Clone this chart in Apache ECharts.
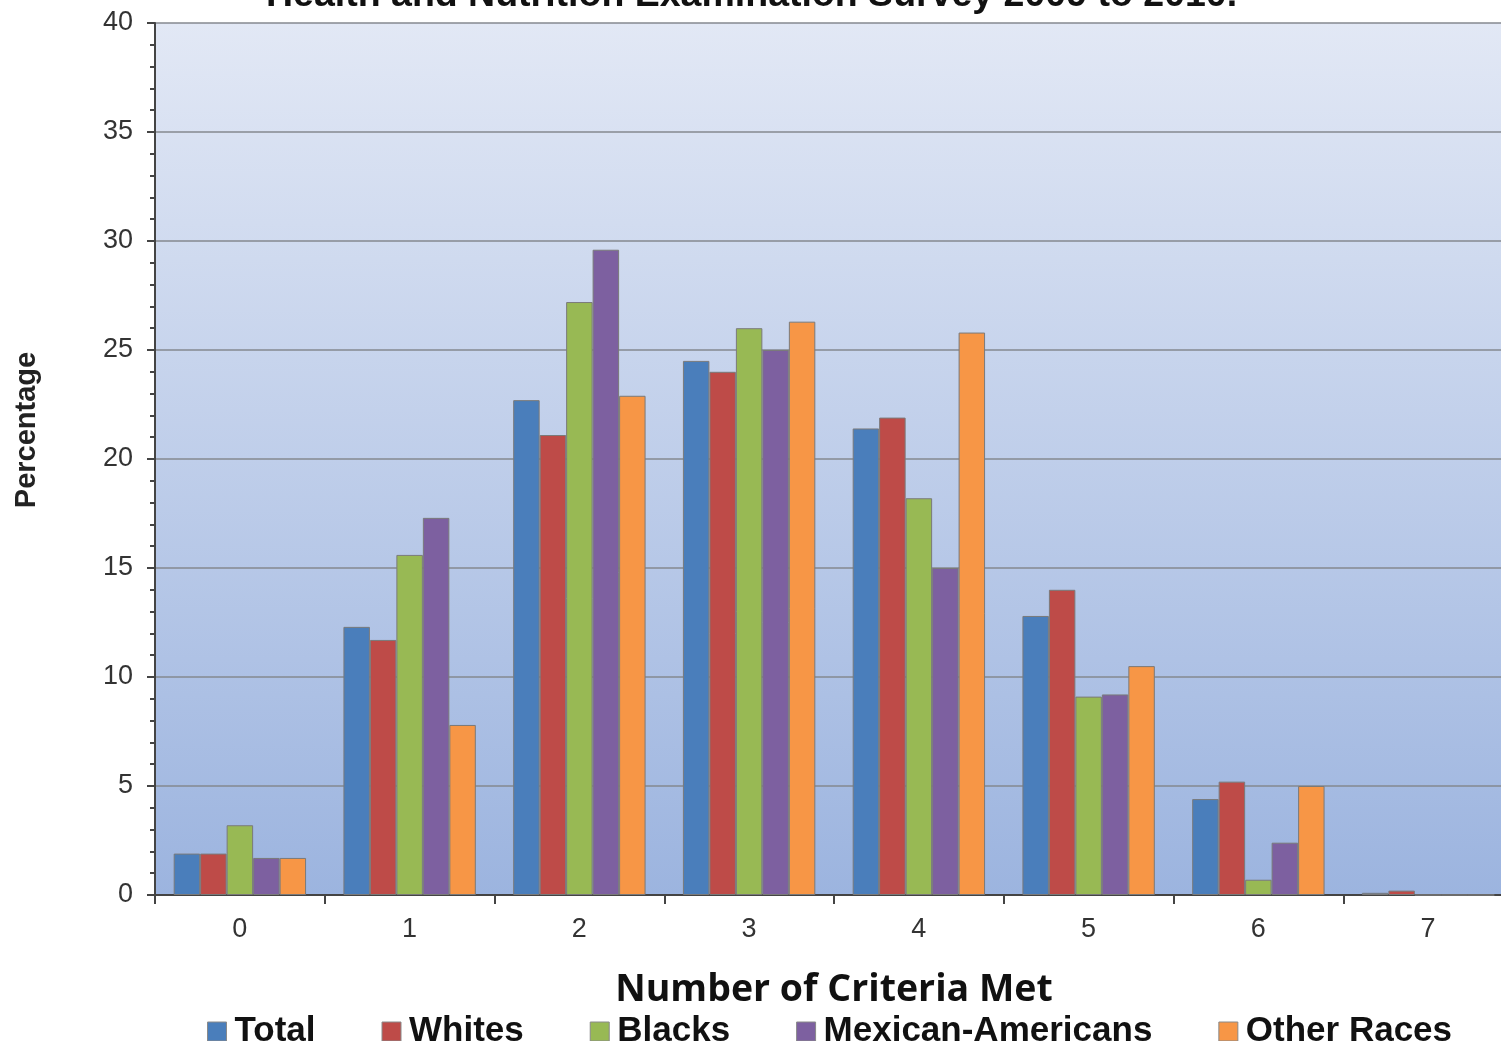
<!DOCTYPE html>
<html>
<head>
<meta charset="utf-8">
<title>Number of Criteria Met</title>
<script src="https://cdn.jsdelivr.net/npm/echarts@6/dist/echarts.min.js"></script>
<style>
  html, body { margin: 0; padding: 0; background: #ffffff; overflow: hidden; }
  /* the plot runs a little past the right edge of the page */
  #chart { width: 1513px; height: 1041px; }
</style>
</head>
<body>
<div id="chart"></div>
<script>
// Number of criteria met, percentage by group
const categories = ['0', '1', '2', '3', '4', '5', '6', '7'];
const total    = [1.9, 12.3, 22.7, 24.5, 21.4, 12.8, 4.4, 0.1];
const whites   = [1.9, 11.7, 21.1, 24.0, 21.9, 14.0, 5.2, 0.2];
const blacks   = [3.2, 15.6, 27.2, 26.0, 18.2, 9.1, 0.7, 0];
const mexican  = [1.7, 17.3, 29.6, 25.0, 15.0, 9.2, 2.4, 0];
const others   = [1.7, 7.8, 22.9, 26.3, 25.8, 10.5, 5.0, 0];
const seriesNames = ['Total', 'Whites', 'Blacks', 'Mexican-Americans', 'Other Races'];
const seriesData = [total, whites, blacks, mexican, others];
const colors = ['#4a7ebb', '#be4b48', '#98b954', '#7d60a0', '#f79646'];

const chart = echarts.init(document.getElementById('chart'), null, { renderer: 'canvas' });

const option = {
  animation: false,
  title: {
    text: 'Health and Nutrition Examination Survey 2009 to 2010.',
    left: 261,
    top: -28,
    textStyle: {
      fontFamily: 'Liberation Sans, Arial, sans-serif',
      fontWeight: 'bold',
      fontSize: 37.5,
      color: '#111'
    }
  },
  grid: {
    left: 155,
    right: 0,
    top: 23,
    bottom: 146,
    show: true,
    borderWidth: 0,
    backgroundColor: new echarts.graphic.LinearGradient(0, 0, 0, 1, [
      { offset: 0, color: '#e2e8f5' },
      { offset: 1, color: '#9cb4df' }
    ])
  },
  legend: {
    data: seriesNames,
    left: 202,
    top: 1009,
    icon: 'rect',
    itemWidth: 19,
    itemHeight: 19,
    itemGap: 66,
    itemStyle: { borderColor: '#8a8a8a', borderWidth: 1 },
    textStyle: {
      fontFamily: 'Liberation Sans, Arial, sans-serif',
      fontWeight: 'bold',
      fontSize: 35,
      color: '#111',
      padding: [0, 0, 0, 3]
    }
  },
  graphic: [{
    type: 'text',
    x: 27,
    y: 430,
    rotation: Math.PI / 2,
    style: {
      text: 'Percentage',
      fontFamily: 'Liberation Sans, Arial, sans-serif',
      fontWeight: 'bold',
      fontSize: 29,
      fill: '#222',
      textAlign: 'center',
      textVerticalAlign: 'middle'
    }
  }],
  xAxis: {
    type: 'category',
    data: categories,
    name: 'Number of Criteria Met',
    nameLocation: 'middle',
    nameGap: 76,
    nameTextStyle: {
      fontFamily: 'Open Sans, sans-serif',
      fontWeight: 'bold',
      fontSize: 37.5,
      color: '#111'
    },
    axisLine: { lineStyle: { color: '#444', width: 2 } },
    axisTick: { show: true, length: 9, lineStyle: { color: '#444', width: 2 } },
    axisLabel: {
      fontFamily: 'Liberation Sans, Arial, sans-serif',
      fontSize: 27,
      color: '#333',
      margin: 21
    }
  },
  yAxis: {
    type: 'value',
    min: 0,
    max: 40,
    interval: 5,
    axisLine: { show: true, lineStyle: { color: '#444', width: 2 } },
    axisTick: { show: true, length: 8, lineStyle: { color: '#444', width: 2 } },
    minorTick: { show: true, splitNumber: 5, length: 5, lineStyle: { color: '#444', width: 2 } },
    splitLine: { show: true, lineStyle: { color: '#84898f', width: 1.5 } },
    axisLabel: {
      fontFamily: 'Liberation Sans, Arial, sans-serif',
      fontSize: 27,
      color: '#333',
      margin: 22
    }
  },
  series: seriesNames.map((name, i) => ({
    name: name,
    type: 'bar',
    data: seriesData[i],
    barGap: '0%',
    barCategoryGap: '22%',
    itemStyle: {
      color: colors[i],
      borderColor: '#7a7a7a',
      borderWidth: 1
    }
  }))
};

chart.setOption(option);
</script>
</body>
</html>
